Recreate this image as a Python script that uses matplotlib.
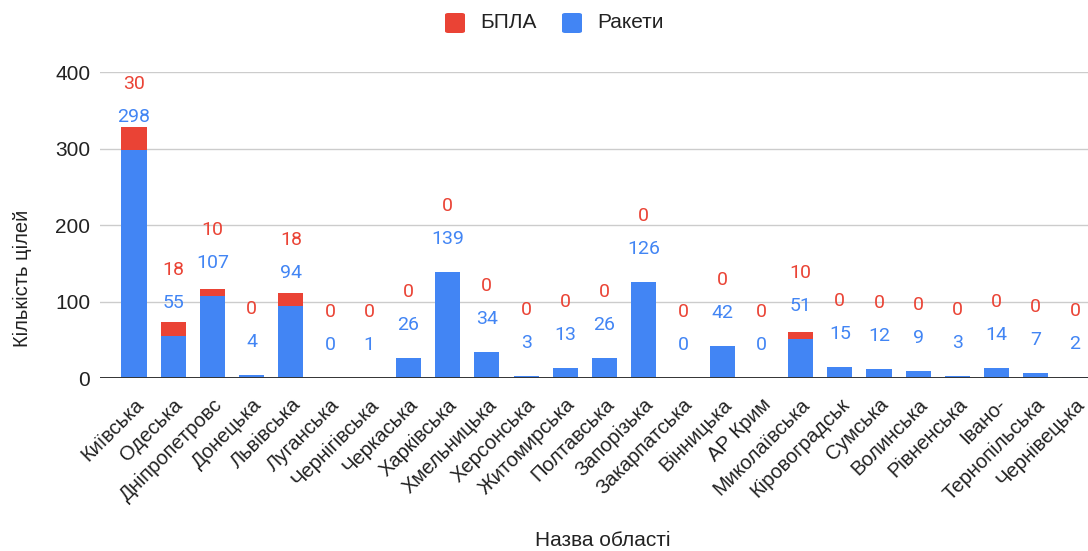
import matplotlib
matplotlib.use("Agg")
import matplotlib.pyplot as plt
from matplotlib.patches import FancyBboxPatch
import numpy as np

# Regions (oblasts) and counts of targets by type
regions = ["Київська", "Одеська", "Дніпропетровс", "Донецька", "Львівська",
           "Луганська", "Чернігівська", "Черкаська", "Харківська", "Хмельницька",
           "Херсонська", "Житомирська", "Полтавська", "Запорізька", "Закарпатська",
           "Вінницька", "АР Крим", "Миколаївська", "Кіровоградськ", "Сумська",
           "Волинська", "Рівненська", "Івано-", "Тернопільська", "Чернівецька"]
rockets = [298, 55, 107, 4, 94, 0, 1, 26, 139, 34, 3, 13, 26, 126, 0,
           42, 0, 51, 15, 12, 9, 3, 14, 7, 2]
drones = [30, 18, 10, 0, 18, 0, 0, 0, 0, 0, 0, 0, 0, 0, 0,
          0, 0, 10, 0, 0, 0, 0, 0, 0, 0]
y_ticks = [0, 100, 200, 300, 400]

BLUE = "#4285F4"
RED = "#EA4335"
TXT = "#222222"
LABEL_FONT = "Liberation Sans"
VALUE_FONT = "Roboto"

W, H, DPI = 1088, 551, 100
fig = plt.figure(figsize=(W / DPI, H / DPI), dpi=DPI)

# plot area in pixels: left 100, right 1109 (runs past the right edge), top 72, bottom 378
left_px, right_px, top_px, bot_px = 100, 1109, 72, 378.3
ax = fig.add_axes([left_px / W, 1 - bot_px / H,
                   (right_px - left_px) / W, (bot_px - top_px) / H])

x = np.arange(len(regions))
r = np.array(rockets)
d = np.array(drones)

ax.bar(x, r, width=0.64, color=BLUE, zorder=3, label="Ракети")
ax.bar(x, d, width=0.64, bottom=r, color=RED, zorder=3, label="БПЛА")

ax.set_xlim(-0.867, len(regions) - 1 + 0.867)
ax.set_ylim(0, 400)
ax.set_yticks(y_ticks)
ax.set_yticklabels([str(v) for v in y_ticks], fontsize=15, color=TXT,
                   family=LABEL_FONT)
ax.tick_params(axis="y", length=0, pad=7)
ax.grid(axis="y", color="#cccccc", linewidth=1.0, zorder=0)
ax.axhline(0, color="#333333", linewidth=1.4, zorder=4)
for s in ax.spines.values():
    s.set_visible(False)

# rotated category labels
ax.set_xticks(x)
ax.set_xticklabels(regions, rotation=45, ha="right", rotation_mode="anchor",
                   fontsize=14.5, color=TXT, family=LABEL_FONT)
ax.tick_params(axis="x", length=0, pad=12)

# value labels: rocket value above the blue segment, drone value above that
units_per_px = 400 / (bot_px - top_px)
gap = 33 * units_per_px
for xi, rv, dv in zip(x, r, d):
    yb = rv + gap
    yr = max(rv + dv + gap, yb + gap)
    ax.text(xi, yb, str(rv), ha="center", va="center", fontsize=14,
            color=BLUE, family=VALUE_FONT, clip_on=False, zorder=5)
    ax.text(xi, yr, str(dv), ha="center", va="center", fontsize=14,
            color=RED, family=VALUE_FONT, clip_on=False, zorder=5)

# axis titles
fig.text(603 / W, 1 - 541 / H, "Назва області", ha="center", va="center",
         fontsize=15, color=TXT, family=LABEL_FONT)
fig.text(22 / W, 1 - 278 / H, "Кількість цілей", ha="center", va="center",
         rotation=90, fontsize=14.5, color=TXT, family=LABEL_FONT)

# legend
def legend_item(x0, color, text):
    sq = 20
    fig.patches.append(FancyBboxPatch((x0 / W, 1 - 33 / H), sq / W, sq / H,
                                      boxstyle="round,pad=0,rounding_size=0.003",
                                      transform=fig.transFigure, facecolor=color,
                                      edgecolor="none"))
    fig.text((x0 + 35) / W, 1 - 23 / H, text, ha="left", va="center",
             fontsize=15, color=TXT, family=LABEL_FONT)

legend_item(445, RED, "БПЛА")
legend_item(562, BLUE, "Ракети")

fig.savefig("out.png", dpi=DPI, facecolor="white")
